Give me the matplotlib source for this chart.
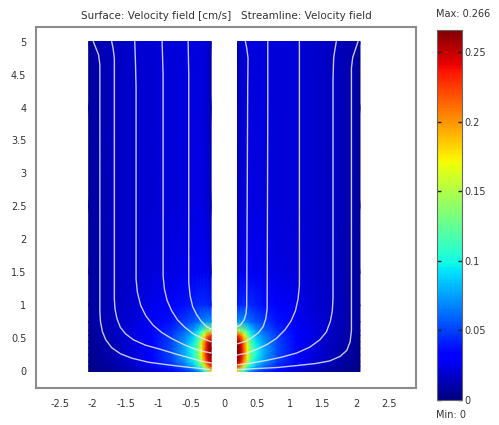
"""
Velocity field in two channels draining through the inner wall near the bottom.
Surface = speed (cm/s) read off the reference on a coarse grid, streamlines traced by eye.
"""
import matplotlib
matplotlib.use("Agg")
import matplotlib.pyplot as plt
import numpy as np

# ── Grid: distance from the inner wall (s) and height (y) ─────────────────────
X_INNER = 0.2
S_GRID = [0.0, 0.05, 0.1, 0.15, 0.2, 0.28, 0.4, 0.6, 0.9, 1.2, 1.5, 1.75, 1.86]
Y_GRID = [0.0, 0.08, 0.15, 0.25, 0.35, 0.45, 0.55, 0.62, 0.75, 1.0, 1.5, 2.5, 4.0, 5.0]

# speed [cm/s], one row per Y_GRID entry, one column per S_GRID entry
SPEED = [
    [0.160, 0.130, 0.100, 0.080, 0.065, 0.052, 0.042, 0.029, 0.018, 0.011, 0.006, 0.003, 0.001],
    [0.230, 0.200, 0.160, 0.125, 0.100, 0.078, 0.062, 0.042, 0.026, 0.016, 0.009, 0.005, 0.002],
    [0.255, 0.240, 0.200, 0.155, 0.120, 0.093, 0.073, 0.049, 0.030, 0.018, 0.011, 0.006, 0.003],
    [0.264, 0.250, 0.215, 0.170, 0.130, 0.100, 0.078, 0.052, 0.032, 0.020, 0.012, 0.007, 0.003],
    [0.266, 0.252, 0.215, 0.170, 0.130, 0.100, 0.078, 0.053, 0.033, 0.021, 0.012, 0.007, 0.004],
    [0.262, 0.245, 0.205, 0.160, 0.120, 0.093, 0.073, 0.051, 0.033, 0.021, 0.013, 0.008, 0.004],
    [0.225, 0.210, 0.175, 0.135, 0.105, 0.083, 0.067, 0.048, 0.032, 0.022, 0.014, 0.008, 0.005],
    [0.150, 0.145, 0.130, 0.110, 0.090, 0.073, 0.060, 0.044, 0.031, 0.022, 0.014, 0.009, 0.005],
    [0.075, 0.075, 0.072, 0.068, 0.062, 0.056, 0.049, 0.038, 0.028, 0.021, 0.015, 0.010, 0.006],
    [0.040, 0.044, 0.045, 0.045, 0.044, 0.041, 0.037, 0.031, 0.025, 0.019, 0.015, 0.010, 0.006],
    [0.018, 0.024, 0.026, 0.027, 0.027, 0.026, 0.025, 0.023, 0.021, 0.018, 0.015, 0.010, 0.006],
    [0.012, 0.019, 0.022, 0.023, 0.023, 0.023, 0.022, 0.021, 0.020, 0.018, 0.015, 0.011, 0.006],
    [0.010, 0.018, 0.021, 0.022, 0.022, 0.022, 0.022, 0.021, 0.020, 0.018, 0.015, 0.011, 0.006],
    [0.010, 0.018, 0.021, 0.022, 0.022, 0.022, 0.022, 0.021, 0.020, 0.018, 0.015, 0.011, 0.006],
]
V_MAX = 0.266
V_MIN = 0.0
CBAR_TICKS = [0, 0.05, 0.1, 0.15, 0.2, 0.25]
CBAR_LABELS = ["0", "0.05", "0.1", "0.15", "0.2", "0.25"]

X_TICKS = [-2.5, -2, -1.5, -1, -0.5, 0, 0.5, 1, 1.5, 2, 2.5]
X_LABELS = ["-2.5", "-2", "-1.5", "-1", "-0.5", "0", "0.5", "1", "1.5", "2", "2.5"]
Y_TICKS = [0, 0.5, 1, 1.5, 2, 2.5, 3, 3.5, 4, 4.5, 5]
Y_LABELS = ["0", "0.5", "1", "1.5", "2", "2.5", "3", "3.5", "4", "4.5", "5"]

# ── Streamlines (x, y) ────────────────────────────────────────────────────────
STREAM_LEFT = [
    ([-1.99, -1.95, -1.91, -1.89, -1.89, -1.89, -1.88, -1.85, -1.80, -1.71, -1.58,
      -1.40, -1.15, -0.85, -0.60, -0.40, -0.22],
     [5.00, 4.90, 4.80, 4.65, 4.00, 0.90, 0.75, 0.60, 0.48, 0.36, 0.27,
      0.20, 0.14, 0.10, 0.07, 0.05, 0.03]),
    ([-1.71, -1.69, -1.67, -1.67, -1.66, -1.63, -1.58, -1.50, -1.38, -1.20,
      -0.95, -0.72, -0.50, -0.32, -0.20],
     [5.00, 4.90, 4.75, 1.10, 0.95, 0.80, 0.67, 0.57, 0.48, 0.40,
      0.33, 0.26, 0.20, 0.15, 0.13]),
    ([-1.36, -1.35, -1.34, -1.34, -1.32, -1.27, -1.19, -1.08, -0.95, -0.80,
      -0.62, -0.45, -0.30, -0.20],
     [5.00, 4.70, 4.30, 1.40, 1.20, 1.00, 0.84, 0.70, 0.59, 0.50,
      0.41, 0.34, 0.30, 0.28]),
    ([-0.945, -0.93, -0.93, -0.91, -0.87, -0.80, -0.71, -0.60, -0.47, -0.33, -0.20],
     [5.00, 4.50, 1.45, 1.25, 1.08, 0.92, 0.78, 0.67, 0.57, 0.50, 0.45]),
    ([-0.55, -0.54, -0.54, -0.52, -0.48, -0.42, -0.35, -0.27, -0.20],
     [5.00, 4.50, 1.35, 1.15, 0.98, 0.86, 0.76, 0.68, 0.64]),
]
STREAM_RIGHT = [
    ([0.32, 0.34, 0.36, 0.355, 0.34, 0.33, 0.30, 0.25, 0.20],
     [5.00, 4.90, 4.75, 4.30, 1.00, 0.88, 0.78, 0.71, 0.68]),
    ([0.66, 0.66, 0.65, 0.63, 0.59, 0.52, 0.43, 0.33, 0.20],
     [5.00, 4.00, 0.95, 0.80, 0.68, 0.59, 0.52, 0.46, 0.42]),
    ([1.14, 1.14, 1.12, 1.08, 1.01, 0.92, 0.79, 0.65, 0.50, 0.35, 0.20],
     [5.00, 1.30, 1.10, 0.92, 0.76, 0.63, 0.50, 0.41, 0.34, 0.28, 0.25]),
    ([1.70, 1.68, 1.66, 1.65, 1.65, 1.64, 1.61, 1.55, 1.45, 1.30, 1.10,
      0.88, 0.65, 0.42, 0.20],
     [5.00, 4.88, 4.75, 4.40, 1.10, 0.92, 0.76, 0.60, 0.48, 0.37, 0.28,
      0.22, 0.17, 0.13, 0.10]),
    ([2.03, 1.99, 1.95, 1.93, 1.93, 1.91, 1.86, 1.76, 1.60, 1.38, 1.10,
      0.80, 0.50, 0.20],
     [5.00, 4.88, 4.76, 4.60, 0.62, 0.45, 0.32, 0.23, 0.16, 0.12, 0.09,
      0.06, 0.045, 0.03]),
]

TITLE = "Surface: Velocity field [cm/s]   Streamline: Velocity field"
TEXT_COLOR = "#333333"
STREAM_COLOR = "#ece8f6"

plt.rcParams["font.family"] = ["DejaVu Sans"]

fig = plt.figure(figsize=(4.99, 4.25), dpi=100)
ax = fig.add_axes([0.0721, 0.0871, 0.7615, 0.8494])
cax = fig.add_axes([0.8758, 0.0588, 0.0500, 0.8706])

S, Y = np.meshgrid(np.array(S_GRID), np.array(Y_GRID))
V = np.array(SPEED)

mesh = None
for sign in (-1, 1):
    X = sign * (X_INNER + S)
    mesh = ax.pcolormesh(X, Y, V, shading="gouraud", cmap="jet",
                         vmin=V_MIN, vmax=V_MAX, rasterized=True)

for xs, ys in STREAM_LEFT + STREAM_RIGHT:
    ax.plot(xs, ys, color=STREAM_COLOR, lw=1.0, alpha=0.85,
            solid_capstyle="round", solid_joinstyle="round")

ax.set_xlim(-2.86, 2.91)
ax.set_ylim(-0.25, 5.22)
ax.set_xticks(X_TICKS, X_LABELS)
ax.set_yticks(Y_TICKS, Y_LABELS)
ax.tick_params(axis="both", length=0, labelsize=7, labelcolor=TEXT_COLOR)
ax.tick_params(axis="x", pad=8)
ax.tick_params(axis="y", pad=7)
for sp in ax.spines.values():
    sp.set_color("#8c8c8c")
    sp.set_linewidth(1.5)

ax.set_title(TITLE, fontsize=7.5, color=TEXT_COLOR, pad=6)

cb = fig.colorbar(mesh, cax=cax, ticks=CBAR_TICKS)
cb.set_ticklabels(CBAR_LABELS)
cb.outline.set_edgecolor("#666666")
cb.outline.set_linewidth(0.8)
cax.tick_params(direction="in", length=3, width=1, color="#222222",
                left=True, right=True, labelsize=7, labelcolor=TEXT_COLOR, pad=2)

fig.text(0.874, 0.966, f"Max: {V_MAX:.3f}", fontsize=7, color=TEXT_COLOR, va="center")
fig.text(0.874, 0.024, f"Min: {V_MIN:.0f}", fontsize=7, color=TEXT_COLOR, va="center")

fig.savefig("out.png", dpi=100)
